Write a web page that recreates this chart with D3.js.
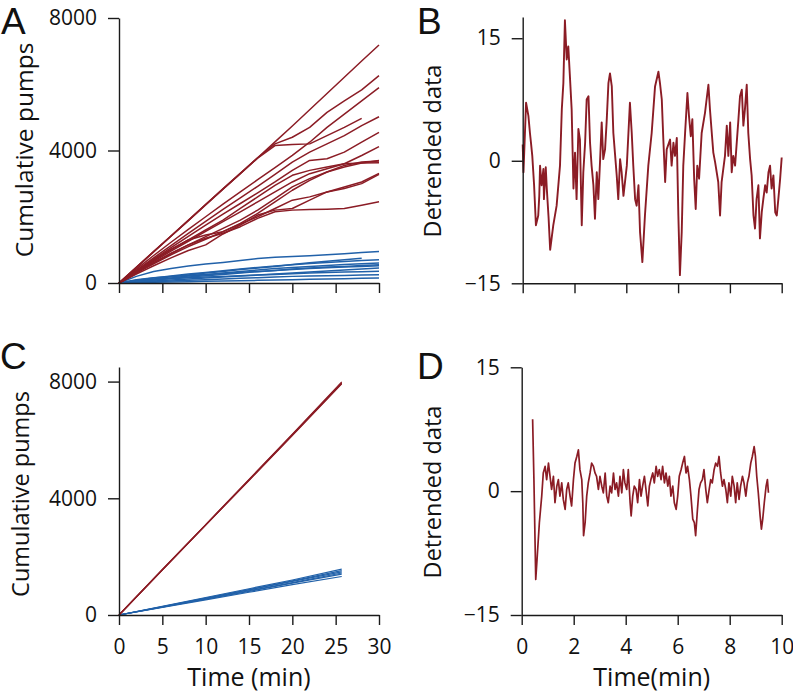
<!DOCTYPE html>
<html><head><meta charset="utf-8">
<script src="https://cdn.jsdelivr.net/npm/d3@7"></script>
<style>
body{margin:0;background:#fff}
text{font-family:"Open Sans",sans-serif;fill:#111}
</style>
</head><body>
<svg id="c" width="793" height="695"></svg>
<script>
// ---------- DATA ----------
const panelLetters = ["A", "B", "C", "D"];
const yTicksPumps = [0, 4000, 8000];
const yTicksDetrend = [-15, 0, 15];
const xTicksPumps = [0, 5, 10, 15, 20, 25, 30];
const xTicksDetrend = [0, 2, 4, 6, 8, 10];

// Panel A: cumulative pumps, sampled every 2 min
const timeA = [0, 2, 4, 6, 8, 10, 12, 14, 16, 18, 20, 22, 24, 26, 28, 30];
const redA = [
  [0, 470, 950, 1420, 1890, 2370, 2840, 3310, 3780, 4260, 4740, 5230, 5720, 6210, 6700, 7185],
  [0, 470, 950, 1420, 1890, 2370, 2840, 3310, 3780, 4200, 4400, 4700, 5150, 5500, 5830, 6260],
  [0, 420, 830, 1230, 1620, 2000, 2380, 2750, 3120, 3480, 3850, 4250, 4700, 5100, 5500, 5900],
  [0, 465, 940, 1410, 1880, 2360, 2830, 3300, 3770, 4150, 4180, 4200, 4450, 4700, 4970, null],
  [0, 380, 760, 1130, 1500, 1860, 2220, 2570, 2920, 3280, 3650, 3950, 4200, 4450, 4750, 5020],
  [0, 360, 720, 1070, 1410, 1750, 2080, 2400, 2720, 3050, 3400, 3700, 3750, 3950, 4250, 4550],
  [0, 330, 650, 960, 1260, 1560, 1850, 2150, 2450, 2750, 3050, 3300, 3450, 3600, 3850, 4115],
  [0, 340, 680, 1000, 1300, 1600, 1900, 2250, 2600, 2950, 3250, 3400, 3500, 3600, 3620, 3630],
  [0, 300, 580, 850, 1100, 1320, 1550, 1780, 2000, 2250, 2500, 2600, 2750, 2900, 3050, 3310],
  [0, 270, 520, 760, 980, 1150, 1480, 1750, 2050, 2200, 2250, 2500, 2750, 2850, 3000, 3280],
  [0, 320, 620, 900, 1150, 1350, 1500, 1700, 1950, 2150, 2200, 2220, 2230, 2250, 2350, 2455],
  [0, 350, 700, 1020, 1300, 1450, 1550, 1800, 2100, 2450, 2800, 3100, 3350, 3550, 3650, 3680],
  [0, 310, 600, 880, 1150, 1400, 1650, 1900, 2200, 2550, 2900, 3150, 3350, 3500, 3620, 3700]
];
const blueA = [
  [0, 200, 350, 440, 510, 570, 620, 680, 740, 780, 800, 820, 850, 880, 920, 950],
  [0, 60, 120, 190, 240, 300, 350, 410, 450, 500, 560, 610, 660, 700, 745, null],
  [0, 80, 150, 210, 270, 320, 370, 420, 470, 510, 550, 590, 620, 650, 680, 700],
  [0, 50, 100, 150, 210, 250, 300, 350, 390, 440, 470, 500, 530, 560, 580, 604],
  [0, 100, 160, 200, 230, 260, 290, 320, 350, 380, 410, 440, 460, 480, 500, 523],
  [0, 30, 60, 90, 120, 150, 180, 210, 240, 270, 300, 330, 360, 390, 420, 450],
  [0, 60, 100, 130, 160, 180, 200, 220, 240, 260, 280, 300, 320, 330, 340, 352],
  [0, 20, 40, 60, 80, 100, 120, 140, 160, 180, 200, 210, 220, 230, 240, 252],
  [0, 10, 20, 30, 40, 50, 60, 70, 80, 90, 100, 110, 120, 130, 140, 150],
  [0, 40, 90, 140, 180, 220, 260, 300, 340, 380, 420, 450, 480, 500, 530, 550]
];

// Panel C: model cumulative pumps
const timeC = [0, 5, 10, 15, 20, 25.7];
const redC = [
  [0, 1550, 3090, 4630, 6180, 7960],
  [0, 1540, 3080, 4620, 6170, 7940],
  [0, 1560, 3100, 4650, 6200, 7990],
  [0, 1545, 3085, 4610, 6150, 7920]
];
const blueC = [
  [0, 280, 570, 860, 1150, 1480],
  [0, 300, 600, 900, 1200, 1570],
  [0, 270, 540, 810, 1090, 1400],
  [0, 260, 520, 780, 1040, 1320],
  [0, 290, 580, 870, 1170, 1520],
  [0, 275, 555, 830, 1110, 1440]
];

// Panel B: detrended data (experiment)
const timeB = [0,0.03,0.13,0.22,0.28,0.32,0.37,0.44,0.51,0.60,0.64,0.67,0.73,0.80,0.82,0.89,0.93,1.0,1.06,1.18,1.31,1.44,1.51,1.57,1.63,1.70,1.76,1.83,1.89,1.96,2.02,2.08,2.15,2.21,2.28,2.34,2.41,2.47,2.54,2.60,2.66,2.73,2.79,2.86,2.92,2.99,3.05,3.11,3.18,3.24,3.31,3.37,3.44,3.50,3.56,3.63,3.69,3.76,3.82,3.89,4.02,4.14,4.21,4.27,4.34,4.40,4.47,4.53,4.62,4.72,4.85,4.98,5.11,5.24,5.30,5.37,5.43,5.50,5.56,5.69,5.75,5.82,5.88,5.95,6.01,6.07,6.14,6.20,6.27,6.36,6.42,6.49,6.55,6.62,6.68,6.74,6.81,6.91,7.04,7.10,7.17,7.23,7.30,7.36,7.43,7.55,7.62,7.68,7.81,7.88,7.94,8.01,8.07,8.13,8.20,8.33,8.39,8.46,8.52,8.58,8.65,8.71,8.78,8.84,8.91,8.97,9.03,9.10,9.16,9.23,9.29,9.36,9.42,9.49,9.55,9.61,9.68,9.75,9.81,9.87,9.94,10.0];
const valueB = [2.0,-1.4,7.1,5.5,3.4,2.2,0.6,-3.0,-7.9,-6.7,-4.3,-0.6,-3.0,-1.0,-4.7,-0.8,-3.4,-7.0,-10.9,-7.9,-5.5,-0.6,6.3,9.5,17.2,12.4,14.0,9.9,6.3,-3.4,1.0,-4.7,3.9,2.6,-7.9,-1.4,2.2,7.5,7.9,2.2,-0.6,-3.0,-7.1,-1.4,-4.7,0.2,4.7,0.2,1.4,4.7,9.5,10.7,9.1,3.4,1.0,-1.8,-4.7,0.2,-1.4,-4.3,-0.6,7.1,3.4,-0.6,-4.7,-5.5,-3.0,-8.7,-12.4,-6.7,-0.6,3.4,9.1,10.9,9.5,7.5,2.6,-2.6,1.4,2.6,-0.6,2.2,0.6,2.8,-6.7,-14.0,-8.7,-0.6,3.4,8.3,5.5,3.0,5.1,-2.2,-5.9,-0.6,-2.2,3.4,5.9,7.5,9.3,6.3,3.4,1.0,-0.2,-2.6,-6.7,-2.6,0.6,4.3,0.6,4.7,-1.4,0.6,-0.6,5.1,7.9,8.7,4.3,6.3,9.3,3.4,0.2,-1.8,-6.7,-8.3,-4.7,-3.0,-9.5,-6.3,-4.7,-3.0,-3.9,-1.4,-0.6,-3.4,-1.8,-6.3,-6.7,-4.7,-2.2,0.4];

// Panel D: detrended data (model)
const timeD = [0.42,0.47,0.54,0.60,0.68,0.77,0.83,0.90,0.96,1.03,1.09,1.15,1.22,1.28,1.35,1.41,1.47,1.54,1.60,1.67,1.73,1.79,1.86,1.92,1.99,2.05,2.12,2.18,2.24,2.31,2.35,2.38,2.44,2.50,2.56,2.63,2.69,2.76,2.82,2.88,2.95,3.01,3.08,3.14,3.21,3.27,3.33,3.40,3.46,3.53,3.59,3.65,3.72,3.78,3.85,3.91,3.97,4.04,4.10,4.17,4.21,4.27,4.33,4.40,4.46,4.53,4.59,4.65,4.72,4.78,4.85,4.91,4.97,5.04,5.10,5.17,5.23,5.29,5.36,5.42,5.49,5.55,5.62,5.68,5.74,5.81,5.87,5.94,6.00,6.06,6.13,6.19,6.26,6.32,6.38,6.45,6.51,6.58,6.64,6.69,6.76,6.82,6.88,6.95,7.01,7.08,7.14,7.21,7.27,7.33,7.40,7.46,7.53,7.59,7.65,7.72,7.78,7.85,7.91,7.97,8.04,8.10,8.17,8.23,8.29,8.36,8.42,8.49,8.55,8.62,8.68,8.74,8.81,8.87,8.94,8.99,9.04,9.10,9.17,9.22,9.27,9.33,9.40,9.45,9.49];
const valueD = [8.7,1.4,-10.7,-7.8,-3.8,-0.6,2.2,3.0,1.4,3.4,1.8,0.2,1.8,-1.4,0.6,1.4,-0.6,1.0,-1.0,-2.2,0.2,1.0,-0.6,-1.8,1.4,3.4,4.2,5.0,2.6,1.4,-1.4,-5.4,-3.8,-0.6,1.0,2.2,3.4,3.0,2.2,1.8,0.2,1.8,0.6,-0.2,2.2,-0.6,-1.4,0.6,-0.2,2.2,0.2,1.0,-0.6,1.8,-0.2,2.6,1.0,0.2,2.6,-1.4,-3.0,-0.6,0.6,0.2,-1.4,1.4,-0.6,0.6,1.8,0.2,-1.8,0.6,1.4,2.2,1.0,3.0,1.8,2.6,1.4,3.0,1.0,2.2,0.6,1.8,-0.6,0.6,-1.4,-2.2,-0.6,1.8,2.6,3.4,4.2,2.2,3.0,1.4,-0.6,-3.4,-3.8,-5.4,-2.2,0.2,1.0,1.4,2.6,0.2,-1.4,0.2,1.4,1.0,2.6,3.4,3.0,4.2,2.2,0.6,1.4,0.2,-1.4,1.0,-0.6,1.8,0.6,-1.4,1.0,-1.0,0.6,1.8,1.0,-0.6,1.0,1.8,3.4,4.2,5.4,4.2,1.8,-0.2,-3.0,-4.6,-3.4,-1.4,0.6,1.4,-0.2];

// ---------- DRAW ----------
const RED = "#8b1c25", BLUE = "#2161a9", AX = "#1a1a1a";
const svg = d3.select("#c");

function panel(o) {
  const x = d3.scaleLinear().domain(o.xDomain).range(o.xRange);
  const y = d3.scaleLinear().domain(o.yDomain).range(o.yRange);
  const g = svg.append("g");
  const line = d3.line().defined(d => d[1] !== null).x(d => x(d[0])).y(d => y(d[1]));
  o.series.forEach(s => {
    g.append("path")
      .attr("d", line(s.t.map((t, i) => [t, s.v[i]])))
      .attr("fill", "none").attr("stroke", s.color)
      .attr("stroke-width", s.w || 1.5).attr("stroke-linejoin", "round");
  });
  const xa = d3.axisBottom(x).tickValues(o.xTicks).tickSize(10).tickSizeOuter(0).tickPadding(14);
  if (!o.xLabels) xa.tickFormat("");
  const gx = g.append("g").attr("transform", `translate(0,${o.yRange[0]})`).call(xa);
  const ya = d3.axisLeft(y).tickValues(o.yTicks).tickSize(11).tickSizeOuter(0).tickPadding(11)
    .tickFormat(d => d < 0 ? "\u2212" + Math.abs(d) : String(d));
  const gy = g.append("g").attr("transform", `translate(${o.xRange[0]},0)`).call(ya);
  [gx, gy].forEach(a => {
    a.selectAll("path,line").attr("stroke", AX).attr("stroke-width", 1.4);
    a.selectAll("text").style("font-family", '"Open Sans",sans-serif').style("font-size", "21px").attr("fill", "#111");
  });
  g.append("text")
    .attr("transform", `translate(${o.yLabelX},${o.yLabelY}) rotate(-90)`)
    .attr("text-anchor", "middle").style("font-size", o.yLabelSize + "px").text(o.yLabel);
  if (o.xLabel) {
    g.append("text").attr("x", (o.xRange[0] + o.xRange[1]) / 2).attr("y", o.xLabelY)
      .attr("text-anchor", "middle").style("font-size", o.xLabelSize + "px").text(o.xLabel);
  }
  g.append("text").attr("x", o.letterX).attr("y", o.letterY)
    .style("font-family", '"Liberation Sans",sans-serif')
    .style("font-size", "37px").text(o.letter);
}

panel({
  letter: panelLetters[0], letterX: 1, letterY: 34,
  xDomain: [0, 30], xRange: [119, 379], yDomain: [0, 8000], yRange: [283, 18],
  xTicks: xTicksPumps, yTicks: yTicksPumps, xLabels: false,
  yLabel: "Cumulative pumps", yLabelX: 33, yLabelY: 150, yLabelSize: 24.5,
  series: [
    ...blueA.map(v => ({t: timeA, v, color: BLUE})),
    ...redA.map(v => ({t: timeA, v, color: RED}))
  ]
});
panel({
  letter: panelLetters[1], letterX: 417, letterY: 34,
  xDomain: [0, 10], xRange: [522.7, 781.7], yDomain: [-15, 17.6], yRange: [283.3, 17],
  xTicks: xTicksDetrend, yTicks: yTicksDetrend, xLabels: false,
  yLabel: "Detrended data", yLabelX: 441, yLabelY: 151, yLabelSize: 23.5,
  series: [{t: timeB, v: valueB, color: RED, w: 1.9}]
});
panel({
  letter: panelLetters[2], letterX: 0, letterY: 369,
  xDomain: [0, 30], xRange: [119, 379], yDomain: [0, 8500], yRange: [615, 367],
  xTicks: xTicksPumps, yTicks: yTicksPumps, xLabels: true,
  yLabel: "Cumulative pumps", yLabelX: 29, yLabelY: 494, yLabelSize: 23.5,
  xLabel: "Time (min)", xLabelY: 686, xLabelSize: 25,
  series: [
    ...blueC.map(v => ({t: timeC, v, color: BLUE, w: 1.2})),
    ...redC.map(v => ({t: timeC, v, color: RED, w: 1.2}))
  ]
});
panel({
  letter: panelLetters[3], letterX: 417, letterY: 379,
  xDomain: [0, 10], xRange: [521.7, 781.7], yDomain: [-15, 15], yRange: [615, 367.3],
  xTicks: xTicksDetrend, yTicks: yTicksDetrend, xLabels: true,
  yLabel: "Detrended data", yLabelX: 441, yLabelY: 492, yLabelSize: 23.5,
  xLabel: "Time(min)", xLabelY: 686, xLabelSize: 25,
  series: [{t: timeD, v: valueD, color: RED, w: 1.7}]
});
</script>
</body></html>
